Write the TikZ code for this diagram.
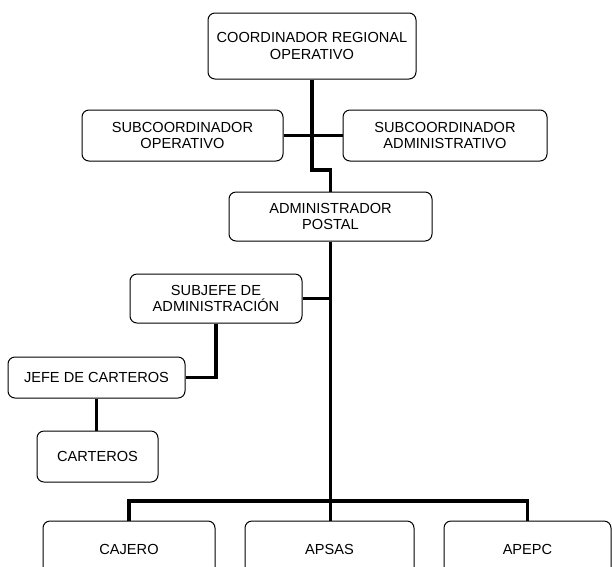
\documentclass[tikz,border=0pt]{standalone}
\usepackage{fontspec}
\setmainfont{Liberation Sans}
\usetikzlibrary{calc}
\tikzset{box/.style={draw,line width=1pt,rounded corners=7pt,align=center,inner sep=2pt,
    font=\fontsize{14.6}{16.5}\selectfont},
  link/.style={line width=3.5pt}}

\begin{document}
\begin{tikzpicture}[x=1pt,y=-1pt]
      \useasboundingbox (0,0) rectangle (612,566);
      % jefaturas
      \node[box,minimum width=208pt,minimum height=66pt] (coord) at (312,46) {COORDINADOR REGIONAL\\OPERATIVO};
      \node[box,minimum width=201pt,minimum height=51pt] (subop) at (182.5,135.5) {SUBCOORDINADOR\\OPERATIVO};
      \node[box,minimum width=204pt,minimum height=51pt] (subadm) at (445,135.5) {SUBCOORDINADOR\\ADMINISTRATIVO};
      \node[box,minimum width=203pt,minimum height=49pt] (admin) at (330.5,216.5) {ADMINISTRADOR\\POSTAL};
      \node[box,minimum width=172pt,minimum height=49pt] (subjefe) at (216,298.5) {SUBJEFE DE\\ADMINISTRACIÓN};
      \node[box,minimum width=177pt,minimum height=41pt] (jefe) at (96.5,377.5) {JEFE DE CARTEROS};
      \node[box,minimum width=121pt,minimum height=51pt] (carteros) at (97.5,456.5) {CARTEROS};
      % ventanilla
      \node[box,minimum width=172pt,minimum height=56pt] (cajero) at (129,549) {CAJERO};
      \node[box,minimum width=169pt,minimum height=56pt] (apsas) at (329.5,549) {APSAS};
      \node[box,minimum width=167pt,minimum height=56pt] (apepc) at (527.5,549) {APEPC};

      \coordinate (jog) at (0,170);
      \coordinate (bus) at (0,501);

      \draw[link] (coord.south) -- (coord.south |- jog) -| (admin.north);
      \draw[link] (subop.east) -- (subadm.west);
      \draw[link] (admin.south) -- (admin.south |- apsas.north);
      \draw[link] (cajero.north) -- (cajero.north |- bus) -| (apepc.north);
      \draw[link] (subjefe.east) -- (subjefe.east -| admin.south);
      \draw[link] (subjefe.south) |- (jefe.east);
      \draw[link] (jefe.south) -- (jefe.south |- carteros.north);
\end{tikzpicture}
\end{document}
